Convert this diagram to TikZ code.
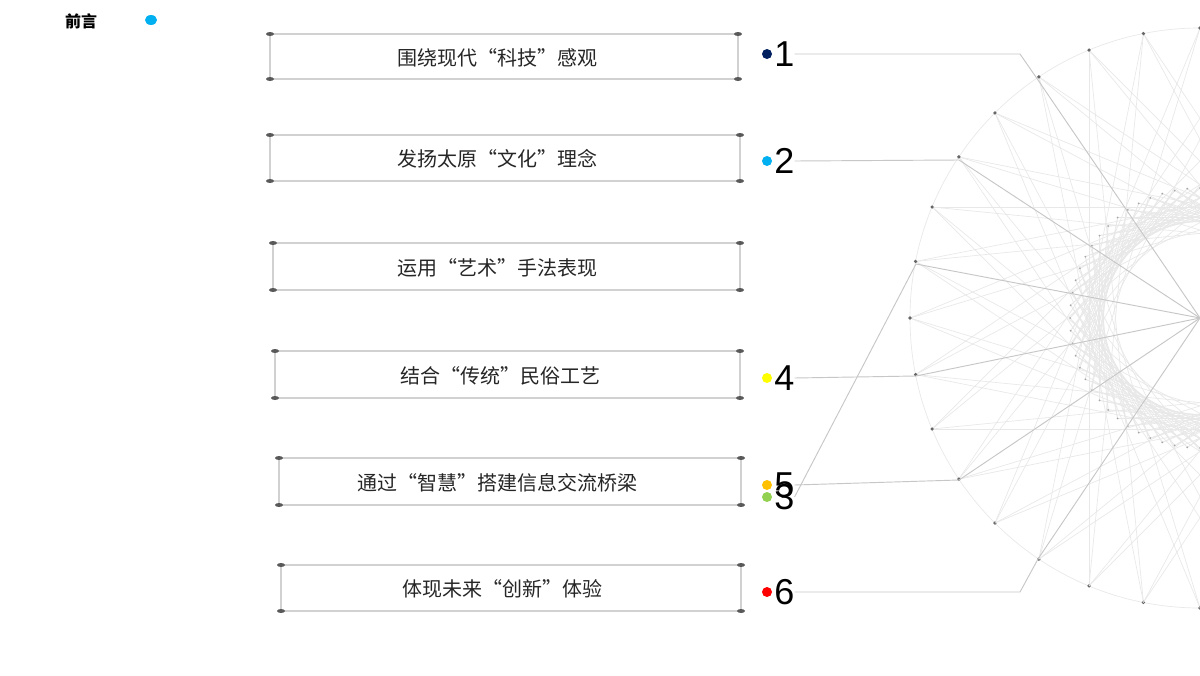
\documentclass[tikz,border=0pt]{standalone}
\usepackage{fontspec}
\usetikzlibrary{calc}
\setmainfont{Noto Sans CJK SC}
\newfontfamily\numfont{Liberation Sans}
\definecolor{c1}{HTML}{002060}
\definecolor{c2}{HTML}{00B0F0}
\definecolor{c3}{HTML}{92D050}
\definecolor{c4}{HTML}{FFFF00}
\definecolor{c5}{HTML}{FFC000}
\definecolor{c6}{HTML}{FF0000}
\tikzset{
  boxline/.style={draw=black!18, line width=0.8pt},
  link/.style={draw=black!22, line width=0.7pt},
  art/.style={draw=black!9, line width=0.5pt},
  artdot/.style={fill=black!60},
  lbl/.style={font=\fontsize{15pt}{17pt}\selectfont, text=black!85},
  num/.style={font=\numfont\fontsize{27pt}{29pt}\selectfont, text=black, inner sep=0pt}
}
\begin{document}
\begin{tikzpicture}[x=0.75pt,y=-0.75pt]
\useasboundingbox (0,0) rectangle (1200,675);
\fill[white] (0,0) rectangle (1200,675);
\node[font=\bfseries\fontsize{12pt}{14pt}\selectfont] (title) at (81,21) {前言};
\fill[c2] (151,20) ellipse (6 and 5);
% string art
\begin{scope}
\clip (0,0) rectangle (1200,675);
\coordinate (hub) at (1200,318);
\draw[art] (hub) circle (290);
\foreach \i in {0,...,31}{
  \pgfmathsetmacro{\a}{\i*11.25}
  \pgfmathsetmacro{\b}{(\i+12)*11.25}
  \pgfmathsetmacro{\c}{(\i+13)*11.25}
  \draw[art] ($(hub)+(\a:290)$) -- ($(hub)+(\b:290)$);
  \draw[art] ($(hub)+(\a:290)$) -- ($(hub)+(\c:290)$);
  \fill[artdot] ($(hub)+(\a:290)$) circle (1.8);
}
\foreach \i in {0,...,63}{
  \pgfmathsetmacro{\a}{\i*5.625}
  \pgfmathsetmacro{\b}{(\i+15)*5.625}
  \pgfmathsetmacro{\c}{(\i+14)*5.625}
  \draw[art] ($(hub)+(\a:130)$) -- ($(hub)+(\b:130)$);
  \draw[art] ($(hub)+(\a:130)$) -- ($(hub)+(\c:130)$);
  \fill[black!35] ($(hub)+(\a:130)$) circle (1);
}
\end{scope}
% boxes
\foreach \k/\xl/\xr/\yt/\yb/\t/\ny/\tx in {
  1/270/738/34/79/{围绕现代“科技”感观}/54/497,
  2/270/740/135/181/{发扬太原“文化”理念}/161/497,
  3/273/740/243/290/{运用“艺术”手法表现}/497,
  4/275/740/351/398/{结合“传统”民俗工艺}/378/500,
  5/279/741/458/505/{通过“智慧”搭建信息交流桥梁}/485/497,
  6/281/741/565/611/{体现未来“创新”体验}/592/502}{
  \draw[boxline] (\xl,\yt) rectangle (\xr,\yb);
  \foreach \px/\py in {\xl/\yt,\xr/\yt,\xl/\yb,\xr/\yb}
    \fill[black!65] (\px,\py) ellipse (4 and 2);
  \node[lbl] (t\k) at (\tx,{(\yt+\yb)/2+1}) {\t};
  \fill[c\k] (767,\ny) circle (5);
  \node[num, anchor=west] (n\k) at (774,\ny) {\k};
}
% links
\coordinate (p1) at (1038,80);  \coordinate (q1) at (1020,54);
\coordinate (p2) at (959,160);
\coordinate (p3) at (916,264);
\coordinate (p4) at (916,376);
\coordinate (p5) at (959,480);
\coordinate (p6) at (1038,559); \coordinate (q6) at (1020,592);
\draw[link] (n1.east) -- (q1) -- (p1) -- (hub);
\draw[link] (n2.east) -- (p2) -- (hub);
\draw[link] (n3.east) -- (p3) -- (hub);
\draw[link] (n4.east) -- (p4) -- (hub);
\draw[link] (n5.east) -- (p5) -- (hub);
\draw[link] (n6.east) -- (q6) -- (p6) -- (hub);
\end{tikzpicture}
\end{document}
